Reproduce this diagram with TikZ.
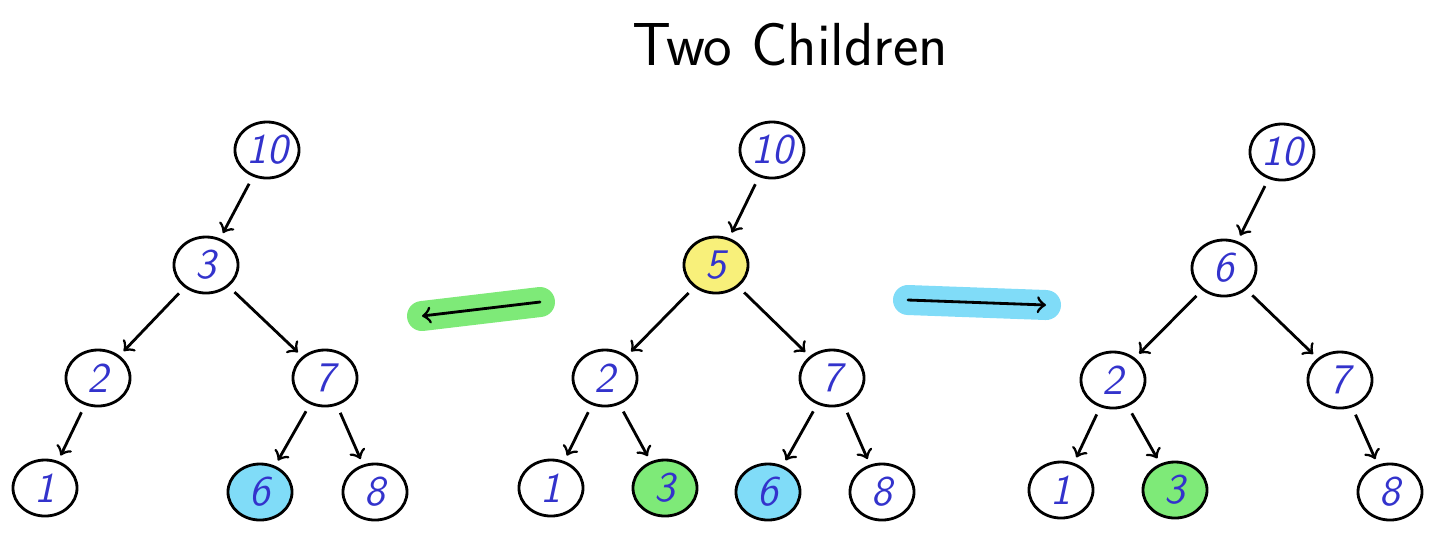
\documentclass[tikz,border=0pt]{standalone}
\usetikzlibrary{shapes.geometric}
\definecolor{numblue}{HTML}{3333CC}
\definecolor{hlyellow}{HTML}{F8F07A}
\definecolor{hlgreen}{HTML}{7EEA78}
\definecolor{hlblue}{HTML}{80DCF8}
\tikzset{
  tnode/.style={ellipse, draw, thick, inner sep=0.5pt, minimum width=0.64cm, minimum height=0.56cm, text=numblue, font=\large\itshape\sffamily},
  tedge/.style={->, thick, shorten <=0.08cm, shorten >=0.06cm},
  hlarrow/.style={->, thick, line cap=round}
}
\begin{document}
\begin{tikzpicture}[x=0.01cm, y=-0.01cm]
    \useasboundingbox (0,0) rectangle (1454,547);

    % Title
    \node[font=\LARGE\sffamily] (title) at (790,45) {Two Children};

    % Left tree
    \node[tnode] (la) at (267,150) {10};
    \node[tnode] (lb) at (206,265) {3};
    \node[tnode] (lc) at (98,378) {2};
    \node[tnode] (ld) at (325,378) {7};
    \node[tnode] (le) at (45,488) {1};
    \node[tnode, fill=hlblue] (lf) at (260,492) {6};
    \node[tnode] (lg) at (375,492) {8};
    \draw[tedge] (la) -- (lb);
    \draw[tedge] (lb) -- (lc);
    \draw[tedge] (lb) -- (ld);
    \draw[tedge] (lc) -- (le);
    \draw[tedge] (ld) -- (lf);
    \draw[tedge] (ld) -- (lg);

    % Middle tree
    \node[tnode] (ma) at (772,150) {10};
    \node[tnode, fill=hlyellow] (mb) at (716,265) {5};
    \node[tnode] (mc) at (605,378) {2};
    \node[tnode] (md) at (832,378) {7};
    \node[tnode] (me) at (551,488) {1};
    \node[tnode, fill=hlgreen] (mf) at (665,488) {3};
    \node[tnode, fill=hlblue] (mg) at (768,492) {6};
    \node[tnode] (mh) at (882,492) {8};
    \draw[tedge] (ma) -- (mb);
    \draw[tedge] (mb) -- (mc);
    \draw[tedge] (mb) -- (md);
    \draw[tedge] (mc) -- (me);
    \draw[tedge] (mc) -- (mf);
    \draw[tedge] (md) -- (mg);
    \draw[tedge] (md) -- (mh);

    % Right tree
    \node[tnode] (ra) at (1282,152) {10};
    \node[tnode] (rb) at (1224,268) {6};
    \node[tnode] (rc) at (1113,380) {2};
    \node[tnode] (rd) at (1340,380) {7};
    \node[tnode] (re) at (1061,490) {1};
    \node[tnode, fill=hlgreen] (rf) at (1175,490) {3};
    \node[tnode] (rg) at (1390,492) {8};
    \draw[tedge] (ra) -- (rb);
    \draw[tedge] (rb) -- (rc);
    \draw[tedge] (rb) -- (rd);
    \draw[tedge] (rc) -- (re);
    \draw[tedge] (rc) -- (rf);
    \draw[tedge] (rd) -- (rg);

    % Highlighted arrows
    \coordinate (gs) at (540,302);
    \coordinate (ge) at (422,316);
    \draw[hlgreen, line width=0.3cm, line cap=round] (gs) -- (ge);
    \draw[hlarrow] (gs) -- (ge);
    \coordinate (bs) at (908,300);
    \coordinate (be) at (1046,305);
    \draw[hlblue, line width=0.3cm, line cap=round] (bs) -- (be);
    \draw[hlarrow] (bs) -- (be);
\end{tikzpicture}
\end{document}
